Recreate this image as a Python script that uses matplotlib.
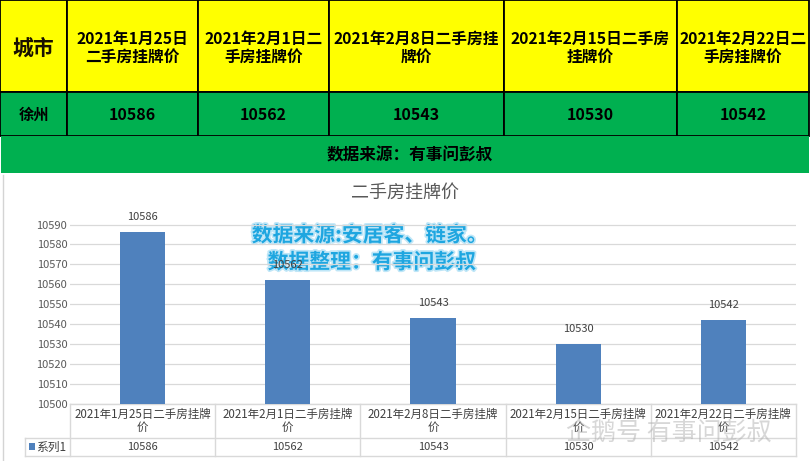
import matplotlib
matplotlib.use('Agg')
import matplotlib.pyplot as plt
from matplotlib.patches import Rectangle
import matplotlib.patheffects as pe

plt.rcParams['font.family'] = ['Noto Sans CJK SC', 'DejaVu Sans']

# data
city = '徐州'
dates = ['2021年1月25日', '2021年2月1日', '2021年2月8日', '2021年2月15日', '2021年2月22日']
prices = [10586, 10562, 10543, 10530, 10542]
header_lines = ['2021年1月25日\n二手房挂牌价', '2021年2月1日二\n手房挂牌价',
                '2021年2月8日二手房挂\n牌价', '2021年2月15日二手房\n挂牌价',
                '2021年2月22日二\n手房挂牌价']
series_name = '系列1'
chart_title = '二手房挂牌价'
yticks = list(range(10500, 10591, 10))

W, H = 810, 461
fig = plt.figure(figsize=(W / 100, H / 100), dpi=100)
fig.patch.set_facecolor('white')

# background axes in pixel coordinates
bg = fig.add_axes([0, 0, 1, 1])
bg.set_xlim(0, W)
bg.set_ylim(H, 0)
bg.axis('off')

yellow = '#ffff00'
green = '#00b050'

# top table
col_edges = [0, 67, 198, 329, 504, 677, 809]
for j in range(len(col_edges) - 1):
    x0, x1 = col_edges[j], col_edges[j + 1]
    bg.add_patch(Rectangle((x0, 0), x1 - x0, 92, facecolor=yellow, edgecolor='black', lw=1.3))
    bg.add_patch(Rectangle((x0, 92), x1 - x0, 44, facecolor=green, edgecolor='black', lw=1.3))
    xc = (x0 + x1) / 2
    if j == 0:
        bg.text(xc, 48, '城市', ha='center', va='center', fontsize=15, fontweight='bold',
                color='#1a1200')
        bg.text(xc, 115, city, ha='center', va='center', fontsize=11, fontweight='bold')
    else:
        bg.text(xc, 48, header_lines[j - 1], ha='center', va='center', fontsize=11.3,
                fontweight='bold', linespacing=1.15)
        bg.text(xc, 115, str(prices[j - 1]), ha='center', va='center', fontsize=11.5,
                fontweight='bold')

# banner
bg.add_patch(Rectangle((1, 136), 808, 37, facecolor=green, edgecolor='none'))
bg.text(410, 155, '数据来源：有事问彭叔', ha='center', va='center', fontsize=12,
        fontweight='bold', color='black')

# spreadsheet edge line
bg.plot([2.5, 2.5], [175, H], color='#d4d4d4', lw=1)

# chart title
bg.text(405, 193, chart_title, ha='center', va='center', fontsize=13, color='#595959')

# chart axes
left, right, top, bottom = 70, 796, 224.5, 404
ax = fig.add_axes([left / W, 1 - bottom / H, (right - left) / W, (bottom - top) / H])
ax.set_facecolor('none')
x = list(range(len(prices)))
ax.bar(x, prices, width=0.31, color='#4f81bd', zorder=2)
for i, v in zip(x, prices):
    ax.annotate(str(v), (i, v), xytext=(0, 11), textcoords='offset points',
                ha='center', va='center', fontsize=8, color='#404040')
ax.set_xlim(-0.5, len(prices) - 0.5)
ax.set_ylim(yticks[0], yticks[-1])
ax.set_yticks(yticks)
ax.set_xticks([])
ax.tick_params(axis='y', length=0, pad=2, labelsize=8, labelcolor='#595959')
ax.grid(axis='y', color='#d9d9d9', lw=0.9, zorder=0)
for s in ax.spines.values():
    s.set_visible(False)

# data table under chart
grid_c = '#d9d9d9'
n = len(prices)
cw = (right - left) / n
edges = [left + k * cw for k in range(n + 1)]
bg.plot([left, right], [bottom, bottom], color=grid_c, lw=1)
bg.plot([25, right], [438, 438], color=grid_c, lw=1)
bg.plot([25, right], [456, 456], color=grid_c, lw=1)
bg.plot([25, 25], [438, 456], color=grid_c, lw=1)
for e in edges:
    bg.plot([e, e], [bottom, 456], color=grid_c, lw=1)
for k in range(n):
    xc = (edges[k] + edges[k + 1]) / 2
    bg.text(xc, 421, dates[k] + '二手房挂牌\n价', ha='center', va='center', fontsize=8.3,
            color='#404040', linespacing=1.05)
    bg.text(xc, 447, str(prices[k]), ha='center', va='center', fontsize=8, color='#404040')
bg.add_patch(Rectangle((29, 443), 6, 7, facecolor='#4f81bd', edgecolor='none'))
bg.text(36, 447, series_name, ha='left', va='center', fontsize=8.5, color='#404040')

# overlay watermarks
glow = [pe.withStroke(linewidth=2.5, foreground='#bfe6f7')]
bg.text(370, 235, '数据来源:安居客、链家。', ha='center', va='center', fontsize=15,
        fontweight='bold', color='#1ea6e0', path_effects=glow)
bg.text(372, 262, '数据整理：有事问彭叔', ha='center', va='center', fontsize=15,
        fontweight='bold', color='#1ea6e0', path_effects=glow)
bg.text(566, 433, '企鹅号 有事问彭叔', ha='left', va='center', fontsize=18,
        color='#b0b0b0', alpha=0.5)

fig.savefig('out.png', dpi=100)
